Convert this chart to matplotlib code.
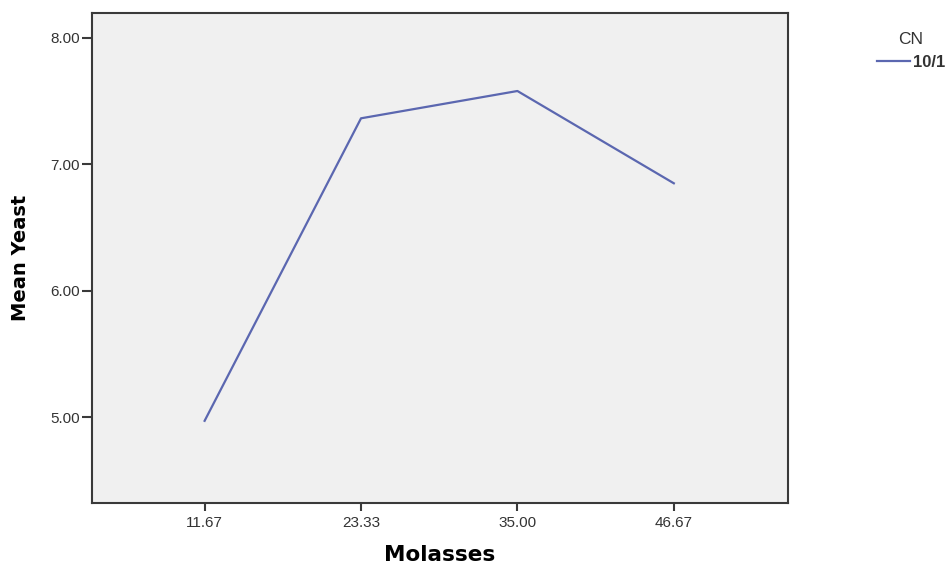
import matplotlib
matplotlib.use("Agg")
import matplotlib.pyplot as plt

# values (SPSS means plot)
molasses_labels = ["11.67", "23.33", "35.00", "46.67"]
mean_yeast = [4.97, 7.363, 7.579, 6.849]
y_ticks = [5.0, 6.0, 7.0, 8.0]
series_name = "10/1"
legend_title = "CN"

line_color = "#5b67b0"
spine_color = "#3a3a3a"

fig = plt.figure(figsize=(9.5, 5.67), dpi=100)
# axes box: 92..788 px wide, 13..503 px high
ax = fig.add_axes([92 / 950, 1 - 503 / 567, (788 - 92) / 950, (503 - 13) / 567])
ax.set_facecolor("#f0f0f0")

x = list(range(len(molasses_labels)))
ax.plot(x, mean_yeast, color=line_color, lw=1.6, label=series_name)

ax.set_xlim(-0.72, len(molasses_labels) - 1 + 0.73)
ax.set_ylim(4.32, 8.196)
ax.set_xticks(x)
ax.set_xticklabels(molasses_labels)
ax.set_yticks(y_ticks)
ax.set_yticklabels([f"{v:.2f}" for v in y_ticks])

for s in ax.spines.values():
    s.set_color(spine_color)
    s.set_linewidth(1.5)

ax.tick_params(axis="x", length=5.5, width=1.5, color=spine_color, pad=4,
               labelsize=11, labelcolor="#333333")
ax.tick_params(axis="y", length=7, width=1.5, color=spine_color, pad=1.5,
               labelsize=11, labelcolor="#333333")
for lab in ax.get_xticklabels() + ax.get_yticklabels():
    lab.set_family("Liberation Sans")

ax.set_xlabel("Molasses", fontsize=15.5, fontweight="bold", family="DejaVu Sans",
              labelpad=11)
ax.set_ylabel("Mean Yeast", fontsize=14, fontweight="bold", family="DejaVu Sans")
ax.yaxis.set_label_coords(-(92 - 30) / (788 - 92), 0.5)

leg = ax.legend(loc="upper left", bbox_to_anchor=(862 / 950, 1 - 17 / 567),
                bbox_transform=fig.transFigure, frameon=False,
                title=legend_title, handlelength=2.0, handletextpad=0.15,
                prop={"family": "Liberation Sans", "size": 12, "weight": "bold"},
                title_fontproperties={"family": "Liberation Sans", "size": 12.5})
leg.get_title().set_color("#333333")
for t in leg.get_texts():
    t.set_color("#333333")

fig.savefig("out.png", dpi=100)
